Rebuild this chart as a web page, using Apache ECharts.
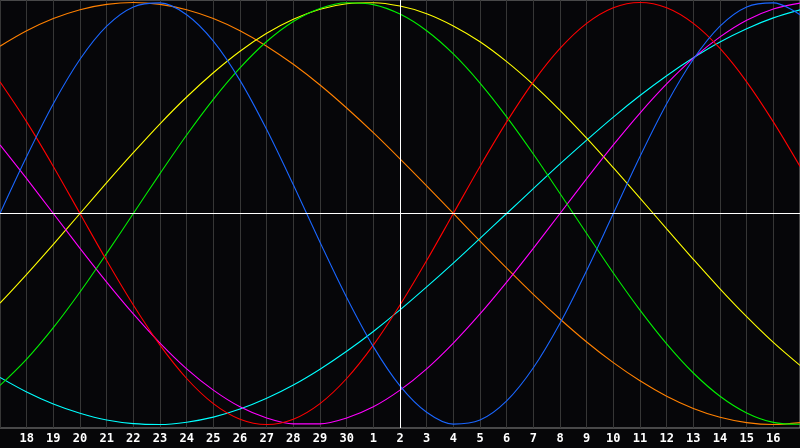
<!DOCTYPE html>
<html>
<head>
<meta charset="utf-8">
<script src="https://cdn.jsdelivr.net/npm/echarts@6/dist/echarts.min.js"></script>
<style>
html,body{margin:0;padding:0;background:#060608;}
#c{width:800px;height:448px;}
</style>
</head>
<body>
<div id="c"></div>
<script>
// Day labels along the bottom (first and last are not shown)
const dayLabels = ['17','18','19','20','21','22','23','24','25','26','27','28','29','30','1','2','3','4','5','6','7','8','9','10','11','12','13','14','15','16','17'];
const todayIndex = 15; // "2"

// Curve values read at each day (index 0..30)
const blue    = [0,0.270,0.520,0.731,0.888,0.979,0.998,0.942,0.817,0.631,0.398,0.136,-0.136,-0.398,-0.631,-0.817,-0.942,-0.998,-0.979,-0.888,-0.731,-0.520,-0.270,0,0.270,0.520,0.731,0.888,0.979,0.998,0.942];
const red     = [0.624,0.434,0.223,0,-0.223,-0.434,-0.624,-0.782,-0.901,-0.975,-1,-0.975,-0.901,-0.782,-0.624,-0.434,-0.223,0,0.223,0.434,0.624,0.782,0.901,0.975,1,0.975,0.901,0.782,0.624,0.434,0.223];
const green   = [-0.815,-0.690,-0.541,-0.372,-0.189,0,0.189,0.372,0.541,0.690,0.815,0.910,0.972,0.999,0.990,0.945,0.866,0.756,0.618,0.458,0.282,0.095,-0.095,-0.282,-0.458,-0.618,-0.756,-0.866,-0.945,-0.990,-0.999];
const magenta = [0.325,0.165,0,-0.165,-0.325,-0.476,-0.614,-0.736,-0.837,-0.916,-0.969,-0.997,-0.997,-0.969,-0.916,-0.837,-0.736,-0.614,-0.476,-0.325,-0.165,0,0.165,0.325,0.476,0.614,0.736,0.837,0.916,0.969,0.997];
const yellow  = [-0.425,-0.288,-0.146,0,0.146,0.288,0.425,0.552,0.667,0.769,0.854,0.920,0.968,0.994,0.999,0.983,0.947,0.889,0.814,0.720,0.611,0.489,0.357,0.217,0.073,-0.073,-0.217,-0.357,-0.489,-0.611,-0.720];
const orange  = [0.793,0.866,0.924,0.966,0.991,1,0.991,0.966,0.924,0.866,0.793,0.707,0.609,0.5,0.383,0.259,0.131,0,-0.131,-0.259,-0.383,-0.5,-0.609,-0.707,-0.793,-0.866,-0.924,-0.966,-0.991,-1,-0.991];
const cyan    = [-0.777,-0.846,-0.903,-0.947,-0.979,-0.996,-1.0,-0.989,-0.965,-0.927,-0.876,-0.813,-0.738,-0.653,-0.559,-0.457,-0.348,-0.235,-0.118,0,0.118,0.235,0.348,0.457,0.559,0.653,0.738,0.813,0.876,0.927,0.965];

const curves = [
  {name:'orange', data:orange, color:'#ff8000'},
  {name:'cyan', data:cyan, color:'#00ffff'},
  {name:'yellow', data:yellow, color:'#ffff00'},
  {name:'magenta', data:magenta, color:'#ff00ff'},
  {name:'green', data:green, color:'#00f000'},
  {name:'red', data:red, color:'#ff0000'},
  {name:'blue', data:blue, color:'#1a66ff'}
];

const chart = echarts.init(document.getElementById('c'), null, {renderer:'canvas'});
const series = curves.map(c => ({
  name: c.name,
  type: 'line',
  data: c.data.map((v, i) => [i, v]),
  smooth: 0.33,
  showSymbol: false,
  symbol: 'none',
  lineStyle: {color: c.color, width: 1.1},
  itemStyle: {color: c.color},
  z: 3
}));
series.push({
  type: 'line',
  data: [],
  z: 2,
  markLine: {
    silent: true,
    symbol: 'none',
    label: {show: false},
    animation: false,
    lineStyle: {color: '#ffffff', width: 1, type: 'solid'},
    data: [{xAxis: todayIndex}, {yAxis: 0}]
  }
});

chart.setOption({
  animation: false,
  backgroundColor: '#060608',
  grid: {left: 0, right: 0, top: 0, bottom: 20, show: true, borderColor: '#8a8a8a', borderWidth: 1, backgroundColor: '#060609'},
  xAxis: {
    type: 'value', min: 0, max: dayLabels.length - 1, interval: 1,
    axisLine: {show: false},
    axisTick: {show: false},
    splitLine: {show: true, lineStyle: {color: '#363636', width: 1}},
    axisLabel: {
      show: true, color: '#ffffff', fontFamily: 'DejaVu Sans Mono', fontWeight: 'bold', fontSize: 12,
      margin: 5, showMinLabel: false, showMaxLabel: false,
      formatter: v => dayLabels[v] || ''
    }
  },
  yAxis: {
    type: 'value', min: -1.0166, max: 1.0118, show: false,
    splitLine: {show: false}
  },
  series: series
});
</script>
</body>
</html>
